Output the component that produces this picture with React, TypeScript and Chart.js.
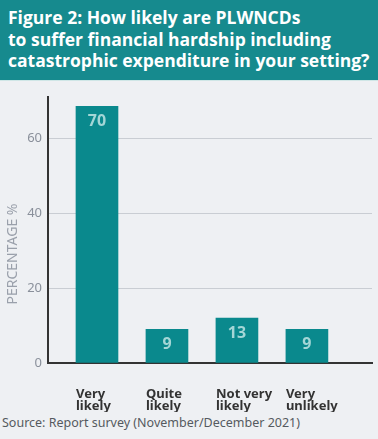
import React, { useEffect, useRef } from "react";
import { Chart, registerables } from "chart.js";
Chart.register(...registerables);

const categories: string[][] = [["Very", "likely"], ["Quite", "likely"], ["Not very", "likely"], ["Very", "unlikely"]];
const barValues: number[] = [68.5, 9, 12, 9];
const valueLabels: string[] = ["70", "9", "13", "9"];
const yTicks: number[] = [0, 20, 40, 60];

const TEAL = "#0a898d";

const valueLabelPlugin = {
  id: "valueLabels",
  afterDatasetsDraw(chart: any) {
    const ctx = chart.ctx;
    const meta = chart.getDatasetMeta(0);
    ctx.save();
    ctx.fillStyle = "#a3d6d6";
    ctx.font = "bold 16px 'Noto Sans'";
    ctx.textAlign = "center";
    ctx.textBaseline = "top";
    meta.data.forEach((bar: any, i: number) => {
      ctx.fillText(valueLabels[i], bar.x, bar.y + 7);
    });
    ctx.restore();
  },
};

const yTitlePlugin = {
  id: "yTitle",
  afterDraw(chart: any) {
    const ctx = chart.ctx;
    ctx.save();
    ctx.translate(13, 172);
    ctx.rotate(-Math.PI / 2);
    ctx.fillStyle = "#9aa0ab";
    ctx.font = "14px 'Noto Sans'";
    ctx.textAlign = "center";
    ctx.textBaseline = "middle";
    ctx.fillText("PERCENTAGE %", 0, 0);
    ctx.restore();
  },
};

export default function App() {
  const ref = useRef<HTMLCanvasElement>(null);
  useEffect(() => {
    document.body.style.margin = "0";
    const chart = new Chart(ref.current!, {
      type: "bar",
      data: {
        datasets: [
          {
            data: barValues.map((v, i) => ({ x: i, y: v })),
            backgroundColor: TEAL,
            barThickness: 42,
          },
        ],
      },
      plugins: [valueLabelPlugin, yTitlePlugin],
      options: {
        animation: false,
        responsive: false,
        layout: { padding: { top: 15, right: 6, left: 0, bottom: 0 } },
        plugins: { legend: { display: false }, tooltip: { enabled: false } },
        scales: {
          x: {
            type: "linear",
            offset: false,
            min: -0.7,
            max: 3.93,
            afterFit: (s: any) => { s.height = 49; },
            afterBuildTicks: (s: any) => { s.ticks = [0, 1, 2, 3].map((v) => ({ value: v })); },
            grid: { display: false },
            border: { display: true, color: "#333", width: 2 },
            ticks: {
              callback: (v: any) => categories[v as number],
              align: "start",
              labelOffset: -21,
              padding: 17,
              maxRotation: 0,
              autoSkip: false,
              color: "#333",
              font: { family: "'Noto Sans'", size: 13, weight: "bold", lineHeight: 0.95 },
            },
          },
          y: {
            min: 0,
            max: 71,
            afterFit: (s: any) => { s.width = 48; },
            afterBuildTicks: (s: any) => { s.ticks = yTicks.map((v) => ({ value: v })); },
            grid: { color: "#c9cdd3", drawTicks: false, lineWidth: 1 },
            border: { display: true, color: "#333", width: 2 },
            ticks: {
              padding: 6,
              color: "#8a909b",
              font: { family: "'Noto Sans'", size: 13 },
            },
          },
        },
      },
    } as any);
    return () => chart.destroy();
  }, []);

  return (
    <div style={{ width: 378, height: 439, background: "#eef0f3", position: "relative", overflow: "hidden" }}>
      <div
        style={{
          position: "absolute", left: 0, top: 0, width: 378, height: 81,
          background: "#168a8e", borderBottom: "1px solid #cfe6e6",
          color: "#fff", fontFamily: "'Open Sans'", fontWeight: 700, fontSize: 17.5,
          lineHeight: "21.5px", padding: "7px 0 0 8px", boxSizing: "border-box",
          whiteSpace: "nowrap",
        }}
      >
        Figure 2: How likely are PLWNCDs<br />
        to suffer financial hardship including<br />
        catastrophic expenditure in your setting?
      </div>
      <canvas ref={ref} width={378} height={330} style={{ position: "absolute", left: 0, top: 82, display: "block" }} />
      <div
        style={{
          position: "absolute", left: 2, top: 414, fontFamily: "'Noto Sans'", fontSize: 12.5,
          color: "#555a60", whiteSpace: "nowrap",
        }}
      >
        Source: Report survey (November/December 2021)
      </div>
    </div>
  );
}
